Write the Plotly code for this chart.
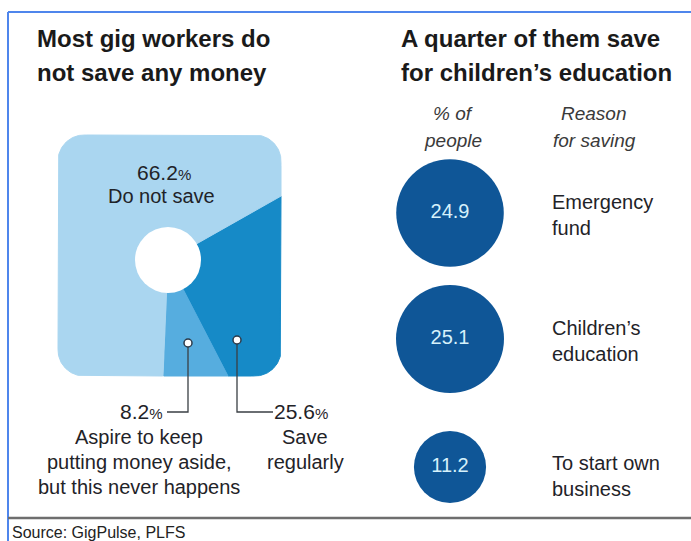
import numpy as np
import plotly.graph_objects as go

# ---------------- data ----------------
saving_labels = ["Do not save", "Save regularly",
                 "Aspire to keep putting money aside, but this never happens"]
saving_values = [66.2, 25.6, 8.2]

reason_labels = ["Emergency<br>fund", "Children’s<br>education", "To start own<br>business"]
reason_values = [24.9, 25.1, 11.2]

# ---------------- style / layout ----------------
W, H = 691, 541
FONT = "Liberation Sans, Arial, sans-serif"
TXT = "#1f2328"

BOX = dict(x0=58, x1=281, y0=135, y1=376, r=26)   # rounded panel behind the pie
PIE_C = (168, 260)
HOLE_R = 33
START_ANGLE = 29.5          # degrees, slices run clockwise from here
SLICE_ORDER = [1, 2, 0]     # clockwise order of slices
SLICE_COLORS = ["#aad6f0", "#168ac7", "#56addf"]

BUBBLE_X = 450
BUBBLE_Y = [213, 339, 467]
BUBBLE_MAX_D = 108
BUBBLE_COLOR = "#0f5697"


def box_sdf(x, y):
    cx = (BOX["x0"] + BOX["x1"]) / 2
    cy = (BOX["y0"] + BOX["y1"]) / 2
    hw = (BOX["x1"] - BOX["x0"]) / 2
    hh = (BOX["y1"] - BOX["y0"]) / 2
    r = BOX["r"]
    qx = abs(x - cx) - (hw - r)
    qy = abs(y - cy) - (hh - r)
    return np.hypot(max(qx, 0), max(qy, 0)) + min(max(qx, qy), 0) - r


def ray_hit(theta_deg):
    th = np.radians(theta_deg)
    dx, dy = np.cos(th), -np.sin(th)
    lo, hi = 0.0, 600.0
    for _ in range(40):
        mid = (lo + hi) / 2
        if box_sdf(PIE_C[0] + dx * mid, PIE_C[1] + dy * mid) <= 0:
            lo = mid
        else:
            hi = mid
    return PIE_C[0] + dx * lo, PIE_C[1] + dy * lo


fig = go.Figure()

# pie slices clipped to the rounded panel
total = sum(saving_values)
a = START_ANGLE
for i in SLICE_ORDER:
    span = 360.0 * saving_values[i] / total
    angles = np.linspace(a, a - span, max(3, int(span * 3)))
    pts = [ray_hit(t) for t in angles]
    xs = [PIE_C[0]] + [p[0] for p in pts] + [PIE_C[0]]
    ys = [PIE_C[1]] + [p[1] for p in pts] + [PIE_C[1]]
    fig.add_trace(go.Scatter(
        x=xs, y=ys, mode="lines", fill="toself",
        fillcolor=SLICE_COLORS[i], line=dict(color=SLICE_COLORS[i], width=1),
        hoverinfo="text", text=f"{saving_labels[i]}: {saving_values[i]}%",
        showlegend=False))
    a -= span

# white hole
fig.add_trace(go.Scatter(
    x=[PIE_C[0]], y=[PIE_C[1]], mode="markers",
    marker=dict(size=2 * HOLE_R, color="white", opacity=1, line=dict(width=0)),
    hoverinfo="skip", showlegend=False))

# leader lines
LEAD = "#3a3f44"
leaders = [
    ([188, 188, 167], [343, 412, 412]),
    ([237, 237, 273], [340, 412, 412]),
]
for lx, ly in leaders:
    fig.add_trace(go.Scatter(x=lx, y=ly, mode="lines",
                             line=dict(color=LEAD, width=1.3),
                             hoverinfo="skip", showlegend=False))
fig.add_trace(go.Scatter(
    x=[l[0][0] for l in leaders], y=[l[1][0] for l in leaders], mode="markers",
    marker=dict(size=8, color="white", opacity=1, line=dict(color="#2b3a4a", width=1.5)),
    hoverinfo="skip", showlegend=False))

# bubbles (area proportional)
sizeref = 2.0 * max(reason_values) / (BUBBLE_MAX_D ** 2)
fig.add_trace(go.Scatter(
    x=[BUBBLE_X] * len(reason_values), y=BUBBLE_Y, mode="markers+text",
    marker=dict(size=reason_values, sizemode="area", sizeref=sizeref,
                color=BUBBLE_COLOR, opacity=1, line=dict(width=0)),
    text=[f"{v:.1f}" for v in reason_values], textposition="middle center",
    textfont=dict(family=FONT, size=20, color="#d6f1fb"),
    hovertext=[l.replace("<br>", " ") for l in reason_labels], hoverinfo="text",
    showlegend=False))

anns = []


def txt(text, x, y, size=20, xanchor="center", bold=False, italic=False, color=TXT):
    if bold:
        text = f"<b>{text}</b>"
    if italic:
        text = f"<i>{text}</i>"
    anns.append(dict(text=text, x=x, y=y, xref="x", yref="y",
                     xanchor=xanchor, yanchor="middle", showarrow=False,
                     font=dict(family=FONT, size=size, color=color)))


def pct(v):
    return f"{v}<span style='font-size:15px'>%</span>"


# titles
txt("Most gig workers do", 35, 38, 24, "left", bold=True, color="#1a1a1a")
txt("not save any money", 35, 72, 24, "left", bold=True, color="#1a1a1a")
txt("A quarter of them save", 399, 38, 24, "left", bold=True, color="#1a1a1a")
txt("for children’s education", 399, 72, 24, "left", bold=True, color="#1a1a1a")

# column headers
txt("% of", 453, 113, 19, italic=True, color="#3a3a3a")
txt("people", 453, 140, 19, italic=True, color="#3a3a3a")
txt("Reason", 594, 113, 19, italic=True, color="#3a3a3a")
txt("for saving", 594, 140, 19, italic=True, color="#3a3a3a")

# pie labels
txt(pct(saving_values[0]), 164, 172, 21)
txt(saving_labels[0], 161, 196, 20)
txt(pct(saving_values[2]), 165, 411, 21, "right")
for k, line in enumerate(["Aspire to keep", "putting money aside,", "but this never happens"]):
    txt(line, 139, 437 + 25 * k, 20)
txt(pct(saving_values[1]), 272, 411, 21, "left")
for k, line in enumerate(["Save", "regularly"]):
    txt(line, 305, 437 + 25 * k, 20)

# reason labels
label_y = [215, 341, 476]
for lab, y in zip(reason_labels, label_y):
    anns.append(dict(text=lab, x=550, y=y, xref="x", yref="y", xanchor="left",
                     yanchor="middle", showarrow=False, align="left",
                     font=dict(family=FONT, size=20, color=TXT)))

# source
txt("Source: GigPulse, PLFS", 10, 532, 16, "left", color="#222222")

shapes = [
    dict(type="line", xref="x", yref="y", x0=8, x1=W, y0=12, y1=12,
         line=dict(color="#4f86ec", width=2)),
    dict(type="line", xref="x", yref="y", x0=8, x1=8, y0=12, y1=H,
         line=dict(color="#4f86ec", width=2)),
    dict(type="line", xref="x", yref="y", x0=8, x1=W, y0=518, y1=518,
         line=dict(color="#6e6e6e", width=2.5)),
]

fig.update_layout(
    width=W, height=H, margin=dict(l=0, r=0, t=0, b=0),
    paper_bgcolor="white", plot_bgcolor="white",
    xaxis=dict(range=[0, W], visible=False, fixedrange=True),
    yaxis=dict(range=[H, 0], visible=False, fixedrange=True),
    annotations=anns, shapes=shapes, showlegend=False,
)

fig.write_html("out.html")
